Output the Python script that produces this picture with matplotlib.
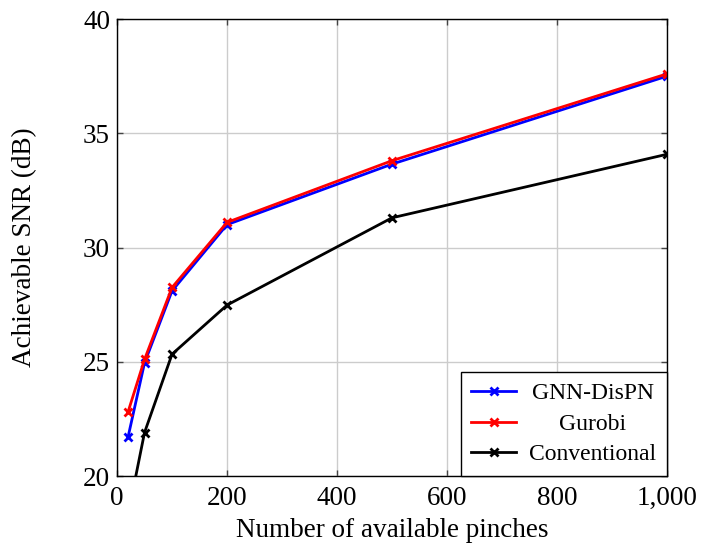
import matplotlib
matplotlib.use("Agg")
import matplotlib.pyplot as plt
from matplotlib.ticker import FuncFormatter

pinches = [20, 50, 100, 200, 500, 1000]

gnn_dispn = [21.7, 24.95, 28.1, 31.0, 33.65, 37.5]
gurobi = [22.8, 25.1, 28.25, 31.1, 33.8, 37.6]
conventional = [18.3, 21.9, 25.33, 27.48, 31.3, 34.08]

x_ticks = [0, 200, 400, 600, 800, 1000]
y_ticks = [20, 25, 30, 35, 40]

plt.rcParams['font.family'] = ['Liberation Serif', 'DejaVu Serif']

fig = plt.figure(figsize=(7.14, 5.46), dpi=100)
ax = fig.add_axes([0.1639, 0.1282, 0.7703, 0.8370])

ax.plot(pinches, gnn_dispn, color='blue', marker='x', markersize=6, markeredgewidth=2,
        linewidth=2, label='GNN-DisPN')
ax.plot(pinches, gurobi, color='red', marker='x', markersize=6, markeredgewidth=2,
        linewidth=2, label='Gurobi')
ax.plot(pinches, conventional, color='black', marker='x', markersize=6, markeredgewidth=2,
        linewidth=2, label='Conventional')

ax.set_xlim(0, 1000)
ax.set_ylim(20, 40)
ax.set_xticks(x_ticks)
ax.set_yticks(y_ticks)
ax.xaxis.set_major_formatter(FuncFormatter(lambda v, p: '{:,.0f}'.format(v)))
ax.grid(True, color='#cccccc', linewidth=1)
ax.set_axisbelow(True)
ax.tick_params(direction='in', length=4, width=1, color='#444444', top=True, right=True,
               labelsize=19.5)
ax.tick_params(axis='x', pad=7)
ax.tick_params(axis='y', pad=5)
for s in ax.spines.values():
    s.set_linewidth(1)

ax.set_xlabel('Number of available pinches', fontsize=19.5, labelpad=5)
ax.set_ylabel('Achievable SNR (dB)', fontsize=19.5, labelpad=33)

leg = ax.legend(loc='lower right', fontsize=17, borderaxespad=0, fancybox=False,
                edgecolor='black', framealpha=1, handlelength=1.9, borderpad=0.45,
                labelspacing=0.38, handletextpad=0.55)
leg.get_frame().set_linewidth(1)

# center the legend labels like pgfplots does
fig.canvas.draw()
r = fig.canvas.get_renderer()
texts = leg.get_texts()
widths = [t.get_window_extent(r).width for t in texts]
wmax = max(widths)
for t, w in zip(texts, widths):
    t.set_position(((wmax - w) / 2, 0))

fig.savefig('out.png', dpi=100)
